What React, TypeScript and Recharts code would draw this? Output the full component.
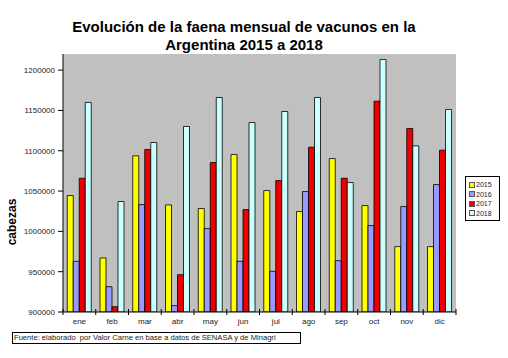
import { BarChart, Bar, XAxis, YAxis, CartesianGrid } from "recharts";

const months = ["ene", "feb", "mar", "abr", "may", "jun", "jul", "ago", "sep", "oct", "nov", "dic"];
const years = ["2015", "2016", "2017", "2018"];

const faena2015 = [1044400, 967000, 1093700, 1032800, 1028300, 1095300, 1050600, 1024600, 1090300, 1032000, 981100, 981100];
const faena2016 = [962900, 931400, 1033200, 907900, 1003400, 962900, 950500, 1049400, 963700, 1007200, 1030800, 1058100];
const faena2017 = [1065900, 906600, 1101500, 946300, 1085400, 1027000, 1063000, 1104400, 1065900, 1161500, 1127600, 1100700];
const faena2018 = [1159900, 1037000, 1110200, 1130100, 1166100, 1135000, 1148700, 1166100, 1060600, 1213200, 1106100, 1151200];

const yTicks = [900000, 950000, 1000000, 1050000, 1100000, 1150000, 1200000];

const colors = ["#FFFF00", "#9999FF", "#EE0000", "#CCFFFF"];

const data = months.map((m, i) => ({
  mes: m,
  y2015: faena2015[i],
  y2016: faena2016[i],
  y2017: faena2017[i],
  y2018: faena2018[i],
}));

const font = "'Liberation Sans', Arial, sans-serif";

const MonthTick = (props: any) => {
  const { x, y, payload, index } = props;
  const half = payload.offset || 0;
  return (
    <g>
      <line x1={x - half} x2={x - half} y1={y - 9} y2={y - 3} stroke="#000" strokeWidth={1} />
      {index === months.length - 1 && (
        <line x1={x + half} x2={x + half} y1={y - 9} y2={y - 3} stroke="#000" strokeWidth={1} />
      )}
      <text x={x} y={y} dy="0.71em" textAnchor="middle" fontSize={8} fill="#222" fontFamily={font}>
        {payload.value}
      </text>
    </g>
  );
};

const App = () => {
  return (
    <div
      style={{
        position: "fixed",
        left: 0,
        top: 0,
        width: 508,
        height: 358,
        background: "#fff",
        fontFamily: font,
      }}
    >
      <div
        style={{
          position: "absolute",
          left: 0,
          top: 18,
          width: 488,
          textAlign: "center",
          fontSize: 15,
          fontWeight: "bold",
          lineHeight: "18px",
          color: "#000",
        }}
      >
        Evolución de la faena mensual de vacunos en la
        <br />
        Argentina 2015 a 2018
      </div>

      <BarChart
        width={508}
        height={358}
        data={data}
        margin={{ top: 54, right: 52, bottom: 30, left: 0 }}
        barCategoryGap="13%"
        barGap={0}
        style={{ position: "absolute", left: 0, top: 0 }}
      >
        <CartesianGrid horizontal={false} vertical={false} fill="#C0C0C0" />
        <XAxis
          dataKey="mes"
          height={16}
          tickLine={false}
          tickSize={0}
          tickMargin={6}
          axisLine={{ stroke: "#000" }}
          tick={<MonthTick />}
          interval={0}
        />
        <XAxis xAxisId="top" orientation="top" dataKey="mes" height={0} tick={false} tickLine={false} axisLine={{ stroke: "#808080" }} />
        <YAxis
          width={63}
          domain={[900000, 1220000]}
          ticks={yTicks}
          allowDataOverflow
          tickSize={5}
          tickMargin={3}
          axisLine={{ stroke: "#000" }}
          tickLine={{ stroke: "#000" }}
          tick={{ fontSize: 8, fill: "#222", fontFamily: font }}
        />
        <YAxis yAxisId="right" orientation="right" width={0} tick={false} tickLine={false} axisLine={{ stroke: "#808080" }} />
        {years.map((yr, k) => (
          <Bar
            key={yr}
            dataKey={"y" + yr}
            name={yr}
            fill={colors[k]}
            stroke="#000"
            strokeWidth={0.8}
            isAnimationActive={false}
          />
        ))}
      </BarChart>

      <div
        style={{
          position: "absolute",
          left: 12,
          top: 222,
          transform: "translate(-50%, -50%) rotate(-90deg)",
          fontSize: 12,
          fontWeight: "bold",
          color: "#000",
          whiteSpace: "nowrap",
        }}
      >
        cabezas
      </div>

      <div
        style={{
          position: "absolute",
          left: 465,
          top: 176,
          width: 35,
          height: 45,
          border: "1px solid #000",
          background: "#fff",
          boxSizing: "border-box",
          paddingTop: 3,
          paddingLeft: 3,
        }}
      >
        {years.map((yr, k) => (
          <div key={yr} style={{ display: "flex", alignItems: "center", height: 9.5, fontSize: 7, color: "#222" }}>
            <span
              style={{
                display: "inline-block",
                width: 4,
                height: 4,
                background: colors[k],
                border: "0.5px solid #555",
                marginRight: 1,
              }}
            />
            {yr}
          </div>
        ))}
      </div>

      <div
        style={{
          position: "absolute",
          left: 12,
          top: 332,
          width: 289,
          height: 12,
          border: "1px solid #000",
          boxSizing: "border-box",
          fontSize: 7.6,
          lineHeight: "10px",
          paddingLeft: 1,
          color: "#222",
          whiteSpace: "nowrap",
        }}
      >
        Fuente: elaborado&nbsp;&nbsp;por Valor Carne en base a datos de SENASA y de Minagri
      </div>
    </div>
  );
};

export default App;
